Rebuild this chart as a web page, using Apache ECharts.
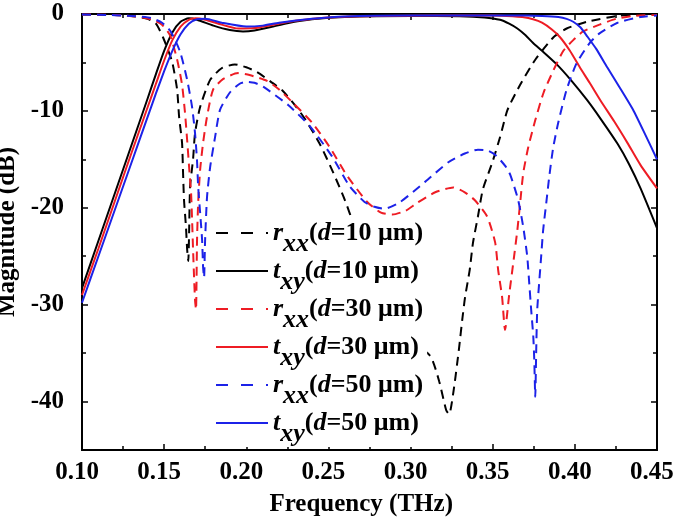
<!DOCTYPE html>
<html>
<head>
<meta charset="utf-8">
<script src="https://cdn.jsdelivr.net/npm/echarts@6/dist/echarts.min.js"></script>
<style>html,body{margin:0;padding:0;background:#fff}#c{width:675px;height:523px}</style>
</head>
<body>
<div id="c"></div>
<script>
// ---- data: [frequency (THz), magnitude (dB)] ----
const rxx10 = [[0.10,-0.05],[0.12,-0.1],[0.13,-0.2],[0.14,-0.5],[0.145,-1.0],[0.1493,-2.4],[0.1548,-4.9],[0.1579,-7.8],[0.1591,-10.6],[0.1609,-13.3],[0.1615,-16.3],[0.1621,-19.2],[0.1633,-22],[0.164,-24.3],[0.1647,-25.5],[0.1652,-22.5],[0.1658,-17.8],[0.1676,-15],[0.1688,-12.3],[0.1719,-9.6],[0.178,-6.8],[0.185,-5.6],[0.193,-5.2],[0.2,-5.5],[0.2066,-6.0],[0.215,-7.0],[0.222,-7.9],[0.23,-9.5],[0.236,-10.9],[0.245,-13.5],[0.253,-16.4],[0.26,-19.2],[0.266,-22],[0.2724,-24.7],[0.2785,-27.7],[0.2955,-32.9],[0.312,-35.3],[0.3174,-37.9],[0.3217,-40.9],[0.3235,-41.3],[0.3265,-38.5],[0.3295,-34.5],[0.3315,-31.5],[0.3332,-29.2],[0.336,-26.4],[0.338,-23.6],[0.341,-20.9],[0.344,-18.1],[0.3496,-15.4],[0.3545,-12.7],[0.359,-9.9],[0.3667,-7.3],[0.376,-4.7],[0.387,-2.4],[0.395,-1.5],[0.4075,-0.8],[0.426,-0.2],[0.44,-0.05],[0.45,-0.02]];
const txy10 = [[0.10,-28.3],[0.11,-23.4],[0.12,-18.5],[0.13,-13.6],[0.14,-8.7],[0.145,-6.2],[0.15,-3.8],[0.155,-1.9],[0.16,-0.8],[0.165,-0.45],[0.17,-0.6],[0.18,-1.2],[0.19,-1.65],[0.198,-1.8],[0.205,-1.7],[0.215,-1.35],[0.225,-0.95],[0.24,-0.55],[0.26,-0.3],[0.30,-0.2],[0.33,-0.22],[0.345,-0.35],[0.3545,-0.6],[0.36,-1.0],[0.365,-1.5],[0.37,-2.2],[0.3746,-3.0],[0.38,-3.8],[0.389,-5.2],[0.398,-6.9],[0.4075,-8.9],[0.416,-10.9],[0.426,-13.4],[0.433,-15.5],[0.44,-18.0],[0.45,-22.1]];
const rxx30 = [[0.10,-0.05],[0.12,-0.1],[0.135,-0.3],[0.143,-0.6],[0.1487,-1.1],[0.1536,-2.2],[0.1579,-4.7],[0.1609,-7.3],[0.1627,-10.2],[0.164,-13],[0.1652,-15.8],[0.1664,-18.5],[0.167,-21.2],[0.1676,-24.3],[0.1682,-27.1],[0.1688,-29.5],[0.1694,-30.5],[0.17,-23.5],[0.1707,-19.5],[0.1719,-16.1],[0.1737,-13.3],[0.1761,-10.6],[0.1798,-7.8],[0.186,-6.7],[0.195,-6.1],[0.202,-6.3],[0.2126,-6.9],[0.22,-7.8],[0.228,-9.1],[0.24,-11.2],[0.251,-13.8],[0.261,-16.6],[0.2736,-19.4],[0.282,-20.5],[0.289,-20.7],[0.297,-20.3],[0.304,-19.5],[0.315,-18.4],[0.326,-17.9],[0.333,-18.4],[0.339,-19.2],[0.3466,-20.9],[0.3515,-23.6],[0.3533,-26.4],[0.3557,-29.2],[0.3575,-32.6],[0.36,-29],[0.3625,-25.7],[0.365,-22.3],[0.3667,-19.5],[0.3686,-16.4],[0.3717,-13.7],[0.376,-10.9],[0.381,-8.1],[0.387,-5.8],[0.393,-3.8],[0.399,-2.7],[0.405,-1.8],[0.415,-1.1],[0.425,-0.5],[0.435,-0.2],[0.45,-0.1]];
const txy30 = [[0.10,-29.0],[0.11,-24.2],[0.12,-19.3],[0.13,-14.4],[0.14,-9.6],[0.145,-7.2],[0.15,-4.8],[0.155,-2.7],[0.16,-1.3],[0.165,-0.6],[0.169,-0.45],[0.175,-0.6],[0.185,-1.1],[0.195,-1.5],[0.205,-1.45],[0.215,-1.15],[0.23,-0.7],[0.25,-0.35],[0.28,-0.2],[0.35,-0.15],[0.362,-0.22],[0.368,-0.32],[0.3746,-0.55],[0.38,-0.9],[0.386,-1.6],[0.391,-2.4],[0.397,-3.8],[0.403,-5.5],[0.409,-7.1],[0.4155,-8.9],[0.424,-11.1],[0.432,-13.3],[0.44,-15.6],[0.45,-18.0]];
const rxx50 = [[0.10,-0.05],[0.115,-0.1],[0.125,-0.15],[0.135,-0.25],[0.142,-0.4],[0.1487,-0.9],[0.154,-1.8],[0.1597,-3.9],[0.164,-6.8],[0.167,-9.6],[0.1688,-12.3],[0.17,-15.1],[0.1707,-17.8],[0.1719,-20.5],[0.1731,-23.3],[0.1737,-26.1],[0.1743,-27.2],[0.1749,-23.5],[0.1761,-18.9],[0.178,-15.8],[0.181,-12.7],[0.184,-9.9],[0.19,-8.1],[0.196,-7.2],[0.2,-7.0],[0.205,-7.1],[0.2103,-7.5],[0.2255,-9.4],[0.2388,-11.6],[0.2522,-14.7],[0.263,-17.8],[0.272,-19.4],[0.278,-19.9],[0.284,-20.1],[0.2937,-19.4],[0.309,-17.3],[0.323,-15.3],[0.333,-14.4],[0.341,-14.0],[0.347,-14.1],[0.352,-14.6],[0.3577,-15.7],[0.3607,-16.6],[0.3655,-19.2],[0.3686,-22],[0.371,-25],[0.3722,-27.7],[0.3734,-30.5],[0.3747,-33.3],[0.3753,-35.7],[0.3759,-39.5],[0.3765,-34.5],[0.3771,-30.5],[0.3783,-27.7],[0.3795,-25],[0.3807,-22.3],[0.3826,-19.5],[0.3844,-16.8],[0.3868,-13.8],[0.3899,-11.2],[0.395,-7.8],[0.401,-5.1],[0.409,-3.0],[0.415,-2.0],[0.426,-0.9],[0.44,-0.3],[0.45,-0.15]];
const txy50 = [[0.10,-29.8],[0.11,-25.0],[0.12,-20.2],[0.13,-15.4],[0.14,-10.6],[0.145,-8.2],[0.15,-5.9],[0.155,-3.8],[0.16,-2.1],[0.165,-1.0],[0.17,-0.55],[0.175,-0.5],[0.185,-0.9],[0.2,-1.3],[0.21,-1.2],[0.22,-0.9],[0.24,-0.5],[0.26,-0.25],[0.3,-0.15],[0.37,-0.15],[0.38,-0.2],[0.39,-0.32],[0.395,-0.5],[0.399,-0.8],[0.4035,-1.4],[0.4075,-2.3],[0.413,-3.6],[0.4197,-5.5],[0.427,-7.5],[0.4355,-9.9],[0.443,-12.5],[0.45,-15.0]];

const xTicks = [0.10,0.15,0.20,0.25,0.30,0.35,0.40,0.45];
const yMajor = [0,-10,-20,-30,-40];
const yMinor = [-5,-15,-25,-35,-45];

const names = ['r10','t10','r30','t30','r50','t50'];
const dvals = {'r10':'10','t10':'10','r30':'30','t30':'30','r50':'50','t50':'50'};

const FONT = '"Liberation Serif", "Times New Roman", serif';
const BLACK = '#000000', RED = '#ee1c24', BLUE = '#1c22e8';
const DASH = [9, 6];

function mkLine(name, data, color, dashed) {
  return {
    name: name, type: 'line', data: data, xAxisIndex: 0, yAxisIndex: 0,
    showSymbol: false, symbol: 'none', smooth: 0.2,
    lineStyle: {color: color, width: 2, type: dashed ? DASH : 'solid'},
    itemStyle: {color: color},
    clip: true, animation: false
  };
}

const axisLineStyle = {color: '#000', width: 2};
const txtBase = {fontFamily: FONT, fontWeight: 'bold', fontSize: 25, color: '#000'};

function yAx(pos, values, len, labels, grid) {
  return {
    type: 'value', position: pos, min: -45, max: 0, gridIndex: grid || 0,
    axisLine: {show: !grid, onZero: false, lineStyle: axisLineStyle},
    axisTick: {show: !grid, inside: true, length: len, lineStyle: {color: '#000', width: 1.5}, customValues: values},
    axisLabel: labels ? Object.assign({show: true, margin: 18, customValues: yMajor, formatter: v => String(v)}, txtBase) : {show: false},
    splitLine: {show: false}
  };
}
function xAx(pos, ticks) {
  return {
    type: 'value', position: pos, min: 0.1, max: 0.45, interval: 0.05, gridIndex: 0,
    axisLine: {show: ticks, onZero: false, lineStyle: axisLineStyle},
    axisTick: {show: ticks, inside: true, length: 6, lineStyle: {color: '#000', width: 1.5}},
    minorTick: {show: ticks, splitNumber: 2, length: 4, lineStyle: {color: '#000', width: 1.5}},
    axisLabel: {show: false},
    splitLine: {show: false}, minorSplitLine: {show: false}
  };
}

// label-only axis on a grid shifted 5px left (as in the reference); extent runs a bit past 0.45
const xLabels = {
  type: 'value', position: 'bottom', gridIndex: 1, min: 0.1, max: 0.46,
  axisLine: {show: false}, axisTick: {show: false},
  axisLabel: Object.assign({show: true, margin: 10, customValues: xTicks, hideOverlap: false, formatter: v => v.toFixed(2)}, txtBase),
  splitLine: {show: false},
  name: 'Frequency (THz)', nameLocation: 'middle', nameGap: 42,
  nameTextStyle: Object.assign({padding: [0, 23, 0, 0]}, txtBase)
};

const yLeft = yAx('left', yMajor, 6, true);
yLeft.name = 'Magnitude (dB)';
yLeft.nameLocation = 'middle';
yLeft.nameGap = 54;
yLeft.nameTextStyle = Object.assign({}, txtBase);

const LF = 26;
const legendRich = {
  i: {fontFamily: FONT, fontWeight: 'bold', fontStyle: 'italic', fontSize: LF, lineHeight: 28, verticalAlign: 'middle'},
  s: {fontFamily: FONT, fontWeight: 'bold', fontStyle: 'italic', fontSize: LF, lineHeight: 48, verticalAlign: 'bottom'},
  n: {fontFamily: FONT, fontWeight: 'bold', fontSize: LF, lineHeight: 28, verticalAlign: 'middle'}
};

const chart = echarts.init(document.getElementById('c'), null, {renderer: 'canvas'});
chart.setOption({
  backgroundColor: '#fff',
  animation: false,
  grid: [
    {left: 82, right: 18, top: 14, bottom: 73, containLabel: false, outerBoundsMode: 'none'},
    {left: 77, right: 6.6, top: 14, bottom: 73, containLabel: false, outerBoundsMode: 'none'}
  ],
  xAxis: [xAx('bottom', true), xAx('top', true), xLabels],
  yAxis: [yLeft, yAx('left', yMinor, 4, false), yAx('right', yMajor, 6, false), yAx('right', yMinor, 4, false), yAx('left', yMajor, 0, false, 1)],
  legend: {
    orient: 'vertical', left: 213, top: 220, itemWidth: 52, itemHeight: 14, itemGap: 1,
    backgroundColor: '#fff', padding: [0, 4, 0, 2],
    itemStyle: {opacity: 0},
    data: names.map(n => ({name: n, lineStyle: n[0] === 'r' ? {type: [12, 13]} : {}})),
    formatter: function (name) {
      const sub = name[0] === 'r' ? 'xx' : 'xy';
      return '{i|' + name[0] + '}{s|' + sub + '}{n|(}{i|d}{n|=' + dvals[name] + ' μm)}';
    },
    textStyle: {rich: legendRich, color: '#000'},
    selectedMode: false
  },
  series: [
    mkLine('r10', rxx10, BLACK, true),
    mkLine('t10', txy10, BLACK, false),
    mkLine('r30', rxx30, RED, true),
    mkLine('t30', txy30, RED, false),
    mkLine('r50', rxx50, BLUE, true),
    mkLine('t50', txy50, BLUE, false)
  ]
});
</script>
</body>
</html>
